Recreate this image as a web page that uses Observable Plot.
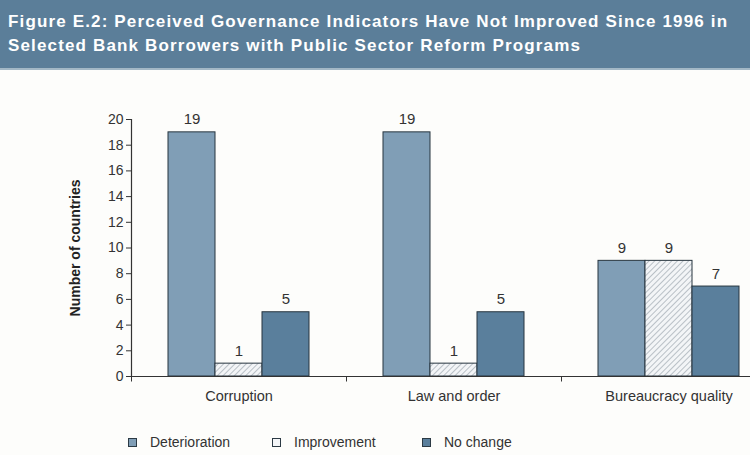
<!DOCTYPE html>
<html>
<head>
<meta charset="utf-8">
<script src="https://cdn.jsdelivr.net/npm/d3@7"></script>
<script src="https://cdn.jsdelivr.net/npm/@observablehq/plot@0.6"></script>
<style>
  html, body { margin: 0; padding: 0; background: #fdfdfb; }
  #wrap { position: relative; width: 750px; height: 455px; overflow: hidden; }
  .title {
    height: 70px; box-sizing: border-box;
    background: #5b7e99; border-bottom: 2px solid #a3b8c6;
    color: #ffffff; font-family: "Liberation Sans", Arial, sans-serif;
    font-weight: bold; font-size: 17px; line-height: 24px;
    padding: 10px 0 0 8px; letter-spacing: 1.15px; white-space: nowrap;
  }
  #chart { position: absolute; left: 0; top: 72px; }
  .legend { position: absolute; top: 433px; left: 0; width: 750px; height: 18px;
    font-family: "Liberation Sans", Arial, sans-serif;
    font-size: 14px; color: #333; }
  .legend span.item { position: absolute; top: 0; display: flex; align-items: center; height: 18px; }
  .legend i { display: inline-block; width: 7px; height: 7px; border: 1px solid #2c3a44; margin-right: 13px; }
</style>
</head>
<body>
<div id="wrap">
  <div class="title">Figure E.2: Perceived Governance Indicators Have Not Improved Since 1996 in<br>Selected Bank Borrowers with Public Sector Reform Programs</div>
  <div id="chart"></div>
  <div class="legend" id="legend"></div>
</div>
<script>
// Governance indicators: number of countries in each direction of change
const categories = ["Corruption", "Law and order", "Bureaucracy quality"];
const series = ["Deterioration", "Improvement", "No change"];
const deterioration = [19, 19, 9];
const improvement = [1, 1, 9];
const noChange = [5, 5, 7];
const yTicks = [0, 2, 4, 6, 8, 10, 12, 14, 16, 18, 20];

const colors = {"Deterioration": "#809eb6", "Improvement": "url(#hatch)", "No change": "#5a7f9c"};
const swatches = {"Deterioration": "#809eb6", "Improvement": "#f4f6f8", "No change": "#5a7f9c"};

const rows = categories.flatMap((c, i) => [
  {category: c, series: series[0], value: deterioration[i]},
  {category: c, series: series[1], value: improvement[i]},
  {category: c, series: series[2], value: noChange[i]}
]);

const font = `"Liberation Sans", Arial, sans-serif`;

// short downward tick at each category boundary
const boundaryTick = {draw(ctx) { ctx.moveTo(0, 0); ctx.lineTo(0, 5); }};

const chart = Plot.plot({
  width: 750,
  height: 348,
  marginLeft: 131,
  marginRight: -26,
  marginTop: 47,
  marginBottom: 44,
  style: {fontFamily: font, fontSize: "14px", color: "#333", background: "transparent"},
  fx: {domain: categories, padding: 0, label: null},
  x: {domain: series, paddingInner: 0, paddingOuter: 0.74, axis: null},
  y: {domain: [0, 20], label: null},
  marks: [
    Plot.barY(rows, {fx: "category", x: "series", y: "value",
      fill: d => colors[d.series], stroke: "#27353f", strokeWidth: 1}),
    Plot.text(rows, {fx: "category", x: "series", y: "value", text: d => String(d.value),
      lineAnchor: "bottom", dy: -8, fontSize: 15, fill: "#333"}),
    Plot.ruleY([0], {stroke: "#333", strokeWidth: 1.2}),
    Plot.frame({anchor: "left", facetAnchor: "left", stroke: "#333", strokeWidth: 1.2}),
    Plot.dot([0], {frameAnchor: "bottom-left", symbol: boundaryTick, stroke: "#333", strokeWidth: 1}),
    Plot.axisY({ticks: yTicks, tickSize: 5, tickPadding: 3, label: null, fontSize: 14}),
    Plot.axisFx({anchor: "bottom", tickSize: 0, tickPadding: 14, label: null, fontSize: 14.5}),
    Plot.text(["Number of countries"], {frameAnchor: "left", facetAnchor: "left", rotate: -90,
      textAnchor: "middle", dx: -56, fontWeight: "bold", fontSize: 14, fill: "#222"})
  ]
});

// hatch pattern for the "Improvement" bars
const svg = d3.select(chart);
const pattern = svg.insert("defs", ":first-child").append("pattern")
  .attr("id", "hatch").attr("patternUnits", "userSpaceOnUse")
  .attr("width", 4).attr("height", 4).attr("patternTransform", "rotate(45)");
pattern.append("rect").attr("width", 4).attr("height", 4).attr("fill", "#f3f5f7");
pattern.append("line").attr("x1", 0).attr("y1", 0).attr("x2", 0).attr("y2", 4)
  .attr("stroke", "#9aa3ab").attr("stroke-width", 1.3);

document.getElementById("chart").append(chart);

// legend
const legendX = [128, 272, 422];
const legend = d3.select("#legend");
series.forEach((s, i) => {
  const item = legend.append("span").attr("class", "item").style("left", legendX[i] + "px");
  item.append("i").style("background", swatches[s]);
  item.append("span").text(s);
});
</script>
</body>
</html>
